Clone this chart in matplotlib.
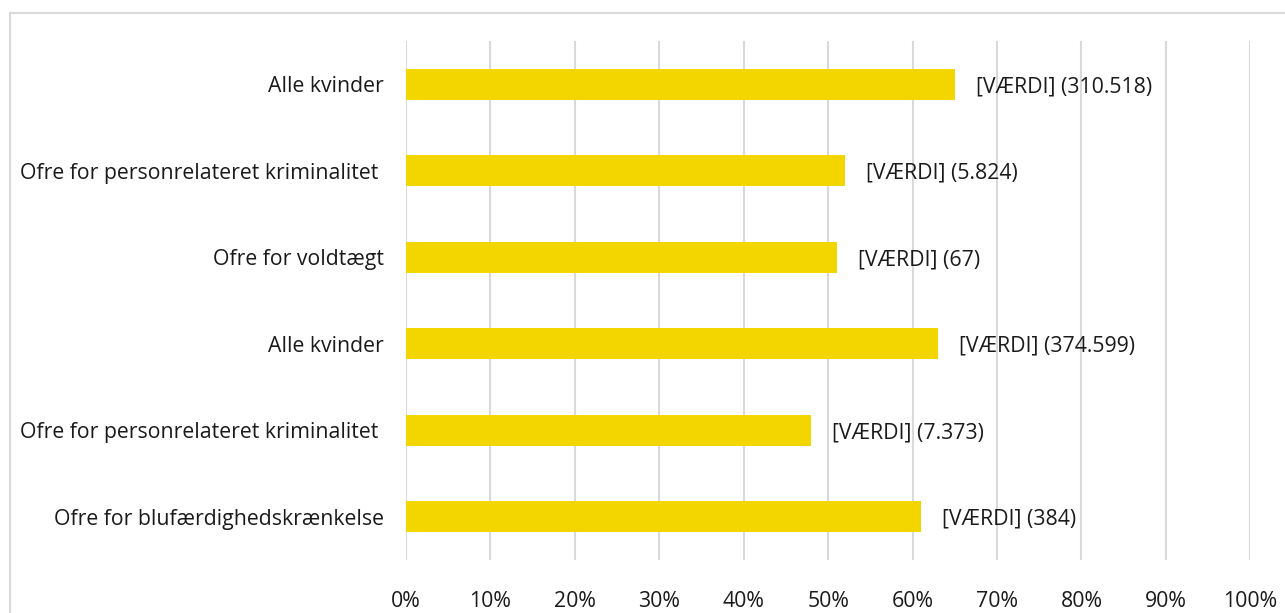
import matplotlib.pyplot as plt
import matplotlib.patches as patches
import numpy as np

plt.rcParams['font.family'] = ['Open Sans', 'DejaVu Sans']

# data (top to bottom)
kategorier = ["Alle kvinder",
              "Ofre for personrelateret kriminalitet ",
              "Ofre for voldtægt",
              "Alle kvinder",
              "Ofre for personrelateret kriminalitet ",
              "Ofre for blufærdighedskrænkelse"]
andel = [65, 52, 51, 63, 48, 61]
antal = ["310.518", "5.824", "67", "374.599", "7.373", "384"]
xticks = np.arange(0, 101, 10)

fig = plt.figure(figsize=(12.85, 6.13), dpi=100)
ax = fig.add_axes([0.316, 0.0865, 0.657, 0.8465])

y = np.arange(len(kategorier))[::-1]
ax.barh(y, andel, height=0.36, color='#F3D500', zorder=3)

for yi, v, n in zip(y, andel, antal):
    ax.text(v + 2.5, yi - 0.03, f"[VÆRDI] ({n})", va='center', ha='left',
            fontsize=15.3, color='#1a1a1a')

ax.set_xlim(0, 100)
ax.set_ylim(-0.5, len(kategorier) - 0.5)
ax.set_xticks(xticks)
ax.set_xticklabels([f"{t}%" for t in xticks], fontsize=15.3, color='#1a1a1a')
ax.set_yticks(y)
ax.set_yticklabels(kategorier, fontsize=15.3, color='#1a1a1a')
ax.tick_params(axis='both', length=0)
ax.tick_params(axis='x', pad=22)
ax.tick_params(axis='y', pad=16)
ax.grid(axis='x', color='#d9d9d9', linewidth=1.5, zorder=0)
for s in ax.spines.values():
    s.set_visible(False)

# ramme rundt om diagrammet
rect = patches.Rectangle((10 / 1285, -0.05), 1.2, 1 - 13 / 613 + 0.05,
                         transform=fig.transFigure, fill=False,
                         edgecolor='#d9d9d9', linewidth=1.5)
fig.patches.append(rect)

plt.savefig('out.png', dpi=100)
